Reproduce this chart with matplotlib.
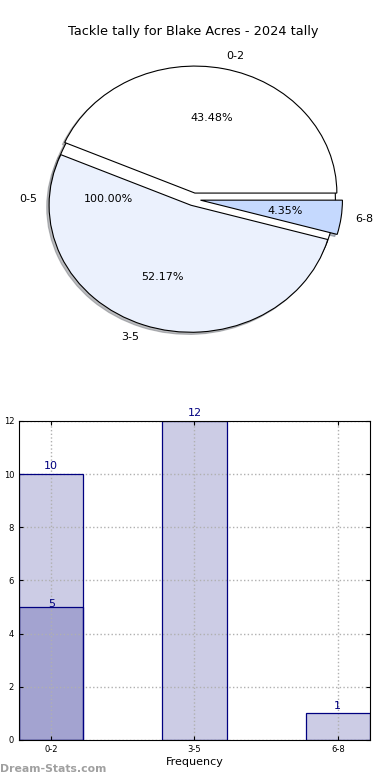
import numpy as np
import matplotlib
matplotlib.use("Agg")
import matplotlib.pyplot as plt

# pie data
outer_labels = ["0-5"]
outer_vals = [5]
pie_labels = ["0-2", "3-5", "6-8"]
pie_colors = ["#ffffff", "#ebf1fd", "#c5d9fe"]
pie_vals = [10, 12, 1]

# bar data
bar_cats = ["0-2", "3-5", "6-8"]
bar_vals = [10, 12, 1]
extra_vals = [5]

fig = plt.figure(figsize=(3.9, 7.8), dpi=100)

# ---- pie ----
ax1 = fig.add_axes([0.041, 0.541, 0.91, 0.407])
wp = dict(edgecolor="black", linewidth=0.8)
shad = dict(ox=-0.012, oy=-0.012, shade=0.5)
ax1.pie(outer_vals, labels=outer_labels, colors=["white"], autopct="%1.2f%%",
        shadow=shad, startangle=0, wedgeprops=wp, textprops=dict(fontsize=8))
ax1.pie(pie_vals, labels=pie_labels, colors=pie_colors, autopct="%1.2f%%",
        explode=[0.05] * 3, shadow=shad, startangle=0, wedgeprops=wp,
        textprops=dict(fontsize=8))
ax1.set_aspect("auto")
ax1.set_xlim(-1.25, 1.25)
ax1.set_ylim(-1.25, 1.25)
ax1.set_title("Tackle tally for Blake Acres - 2024 tally", fontsize=9.3, pad=4)

# ---- bars ----
ax2 = fig.add_axes([0.0487, 0.0513, 0.9, 0.409])
x = np.arange(len(bar_cats))
w = 0.45
face = (0, 0, 0.5, 0.2)
# fills under the grid, outlines above it
b1 = ax2.bar(x, bar_vals, w, color=face, linewidth=0, zorder=1)
b2 = ax2.bar(x[:len(extra_vals)], extra_vals, w, color=face, linewidth=0, zorder=1)
ax2.bar(x, bar_vals, w, facecolor="none", edgecolor="navy", linewidth=0.9, zorder=4)
ax2.bar(x[:len(extra_vals)], extra_vals, w, facecolor="none", edgecolor="navy",
        linewidth=0.9, zorder=4)
for rect, v in zip(b1, bar_vals):
    ax2.text(rect.get_x() + rect.get_width() / 2, v + 0.1, str(v),
             ha="center", va="bottom", color="navy", fontsize=8)
for rect, v in zip(b2, extra_vals):
    ax2.text(rect.get_x() + rect.get_width() / 2, v - 0.08, str(v),
             ha="center", va="bottom", color="navy", fontsize=8)
ax2.set_xlim(-w / 2, len(bar_cats) - 1 + w / 2)
ax2.set_ylim(0, 12)
ax2.set_yticks(range(0, 13, 2))
ax2.set_xticks(x)
ax2.set_xticklabels(bar_cats)
ax2.tick_params(labelsize=6, direction="in", length=3, top=True, right=True)
ax2.grid(True, linestyle=":", color="#b0b0b0", linewidth=1, zorder=2)
for sp in ax2.spines.values():
    sp.set_zorder(5)
ax2.set_xlabel("Frequency", fontsize=8, labelpad=2)
ax2.set_ylabel("Stat Total Tally", fontsize=8)
ax2.yaxis.set_label_coords(-0.062, 0.5)

fig.text(0.0, 0.008, "Dream-Stats.com", color="#a0a0a0", fontsize=7.8,
         fontweight="bold", ha="left", va="bottom")

fig.savefig("out.png", dpi=100)
